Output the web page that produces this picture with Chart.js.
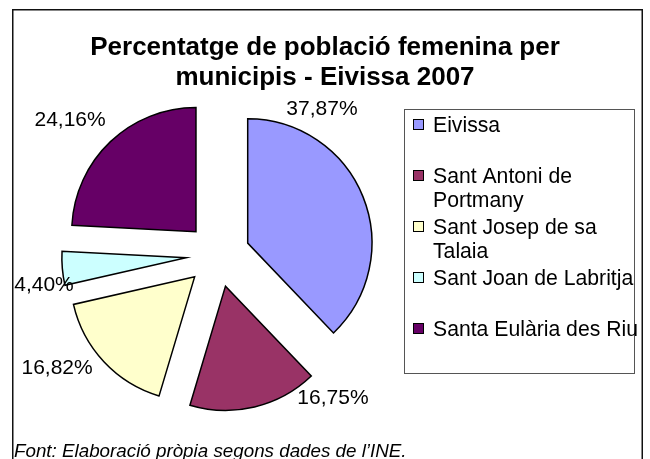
<!DOCTYPE html>
<html><head><meta charset="utf-8">
<script src="https://cdn.jsdelivr.net/npm/chart.js@4/dist/chart.umd.min.js"></script>
<style>html,body{margin:0;padding:0;background:#fff;overflow:hidden}#wrap{width:650px;height:459px;position:relative}canvas{display:block}</style>
</head><body><div id="wrap"><canvas id="c" width="650" height="459"></canvas></div>
<script>
// ---- data ----
const categories = ['Eivissa', 'Sant Antoni de Portmany', 'Sant Josep de sa Talaia', 'Sant Joan de Labritja', 'Santa Eulària des Riu'];
const legendLines = [['Eivissa'], ['Sant Antoni de', 'Portmany'], ['Sant Josep de sa', 'Talaia'], ['Sant Joan de Labritja'], ['Santa Eulària des Riu']];
const percentages = [37.87, 16.75, 16.82, 4.40, 24.16];
const titleLines = ['Percentatge de població femenina per', 'municipis - Eivissa 2007'];
const sourceNote = 'Font: Elaboració pròpia segons dades de l\u2019INE.';

// ---- style ----
const colors = ['#9999FF', '#993366', '#FFFFCC', '#CCFFFF', '#660066'];
const FONT = "'Liberation Sans', Arial, sans-serif";
const EXPLODE = 32;
// label placement: [angle clockwise from top (deg), distance from pie centre (px)]
const LABEL_POLAR = [[35.5, 179], [141.2, 183.5], [234.9, 196.7], [260.2, 176.6], [312.4, 200.3]];

const fmt = v => v.toFixed(2).replace('.', ',') + '%';

const frame = {
  id: 'frame',
  beforeDraw(chart) {
    const ctx = chart.ctx;
    ctx.save();
    ctx.fillStyle = '#fff';
    ctx.fillRect(0, 0, chart.width, chart.height);
    ctx.strokeStyle = '#111';
    ctx.lineWidth = 1.5;
    ctx.strokeRect(12.75, 9.75, 629.5, 520);
    ctx.restore();
  }
};

const explode = {
  id: 'explode',
  beforeDatasetDraw(chart, args) {
    const ctx = chart.ctx;
    args.meta.data.forEach(arc => {
      const mid = (arc.startAngle + arc.endAngle) / 2;
      ctx.save();
      ctx.translate(Math.cos(mid) * EXPLODE, Math.sin(mid) * EXPLODE);
      arc.draw(ctx);
      ctx.restore();
    });
    return false;
  }
};

const texts = {
  id: 'texts',
  afterDraw(chart) {
    const ctx = chart.ctx;
    ctx.save();
    // title
    ctx.fillStyle = '#000';
    ctx.textAlign = 'center';
    ctx.textBaseline = 'alphabetic';
    ctx.font = 'bold 26px ' + FONT;
    titleLines.forEach((t, i) => ctx.fillText(t, 325, 55 + i * 30));
    // data labels
    const meta = chart.getDatasetMeta(0);
    ctx.font = '21px ' + FONT;
    ctx.textBaseline = 'middle';
    meta.data.forEach((arc, i) => {
      const th = (LABEL_POLAR[i][0] - 90) * Math.PI / 180;
      const d = LABEL_POLAR[i][1];
      ctx.fillText(fmt(percentages[i]), arc.x + Math.cos(th) * d, arc.y + Math.sin(th) * d);
    });
    // legend
    ctx.strokeStyle = '#555';
    ctx.lineWidth = 1;
    ctx.strokeRect(404.5, 109.5, 230, 264);
    ctx.font = '21.2px ' + FONT;
    ctx.textAlign = 'left';
    ctx.textBaseline = 'alphabetic';
    legendLines.forEach((lines, i) => {
      const y0 = 132 + i * 51;
      ctx.fillStyle = colors[i];
      ctx.fillRect(413, y0 - 13, 11, 11);
      ctx.strokeStyle = '#000';
      ctx.strokeRect(413.5, y0 - 12.5, 10, 10);
      ctx.fillStyle = '#000';
      lines.forEach((t, j) => ctx.fillText(t, 433, y0 + j * 24));
    });
    // source note
    ctx.font = 'italic 18.8px ' + FONT;
    ctx.fillText(sourceNote, 14, 457);
    ctx.restore();
  }
};

new Chart(document.getElementById('c'), {
  type: 'pie',
  data: {
    labels: categories,
    datasets: [{
      data: percentages,
      backgroundColor: colors,
      borderColor: '#000',
      borderWidth: 1.5,
      borderJoinStyle: 'miter',
      offset: 0,
      hoverOffset: 0
    }]
  },
  options: {
    responsive: false,
    animation: false,
    events: [],
    layout: { padding: { left: 93, right: 307, top: 130, bottom: 79 } },
    plugins: { legend: { display: false }, title: { display: false }, tooltip: { enabled: false } }
  },
  plugins: [frame, explode, texts]
});
</script>
</body></html>
